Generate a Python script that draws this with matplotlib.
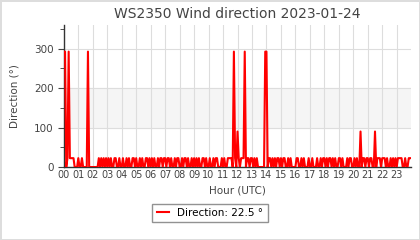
import matplotlib
matplotlib.use("Agg")
import matplotlib.pyplot as plt
from matplotlib.ticker import MultipleLocator

# Wind direction (degrees), one row per hour, 5-minute samples
dir_h00 = [292.5, 292.5, 0, 22.5, 292.5, 22.5, 22.5, 22.5, 22.5, 0, 0, 0]
dir_h01 = [22.5, 0, 0, 22.5, 0, 0, 0, 0, 292.5, 0, 0, 0]
dir_h02 = [0, 0, 0, 0, 0, 22.5, 0, 22.5, 0, 22.5, 0, 22.5]
dir_h03 = [0, 22.5, 0, 22.5, 0, 0, 22.5, 22.5, 0, 0, 22.5, 0]
dir_h04 = [0, 22.5, 0, 0, 22.5, 0, 22.5, 0, 0, 22.5, 22.5, 0]
dir_h05 = [22.5, 0, 0, 22.5, 0, 22.5, 0, 0, 22.5, 22.5, 0, 22.5]
dir_h06 = [0, 22.5, 0, 22.5, 0, 0, 22.5, 0, 22.5, 22.5, 0, 22.5]
dir_h07 = [22.5, 0, 22.5, 22.5, 0, 22.5, 0, 0, 22.5, 0, 22.5, 22.5]
dir_h08 = [0, 0, 22.5, 0, 22.5, 22.5, 0, 22.5, 0, 0, 22.5, 0]
dir_h09 = [22.5, 0, 22.5, 0, 22.5, 0, 0, 22.5, 22.5, 0, 22.5, 0]
dir_h10 = [0, 22.5, 0, 0, 22.5, 0, 22.5, 22.5, 0, 0, 0, 22.5]
dir_h11 = [0, 22.5, 0, 0, 22.5, 22.5, 22.5, 22.5, 0, 292.5, 22.5, 0]
dir_h12 = [90, 22.5, 0, 22.5, 22.5, 22.5, 292.5, 0, 22.5, 22.5, 0, 22.5]
dir_h13 = [22.5, 0, 22.5, 0, 22.5, 0, 0, 0, 0, 0, 0, 292.5]
dir_h14 = [292.5, 0, 22.5, 22.5, 0, 22.5, 0, 22.5, 0, 22.5, 22.5, 0]
dir_h15 = [22.5, 0, 22.5, 22.5, 0, 0, 22.5, 0, 22.5, 0, 0, 0]
dir_h16 = [0, 22.5, 22.5, 0, 0, 22.5, 0, 22.5, 0, 0, 0, 22.5]
dir_h17 = [0, 0, 22.5, 0, 0, 0, 22.5, 0, 0, 22.5, 0, 22.5]
dir_h18 = [22.5, 0, 22.5, 0, 22.5, 22.5, 0, 22.5, 0, 22.5, 0, 0]
dir_h19 = [22.5, 22.5, 0, 22.5, 0, 0, 0, 22.5, 0, 22.5, 22.5, 0]
dir_h20 = [0, 22.5, 0, 22.5, 0, 0, 90, 0, 22.5, 22.5, 0, 22.5]
dir_h21 = [22.5, 0, 22.5, 22.5, 0, 0, 90, 0, 22.5, 22.5, 22.5, 0]
dir_h22 = [22.5, 22.5, 22.5, 0, 22.5, 0, 0, 22.5, 0, 22.5, 0, 22.5]
dir_h23 = [0, 22.5, 22.5, 22.5, 22.5, 0, 0, 22.5, 0, 0, 22.5, 22.5]

hours = [dir_h00, dir_h01, dir_h02, dir_h03, dir_h04, dir_h05, dir_h06, dir_h07,
         dir_h08, dir_h09, dir_h10, dir_h11, dir_h12, dir_h13, dir_h14, dir_h15,
         dir_h16, dir_h17, dir_h18, dir_h19, dir_h20, dir_h21, dir_h22, dir_h23]
hour_labels = ["%02d" % h for h in range(24)]
last_value = 22.5

t = []
d = []
for h, row in enumerate(hours):
    for i, v in enumerate(row):
        t.append(h + i * 5 / 60.0)
        d.append(v)

txt = "#444444"
fig = plt.figure(figsize=(4.2, 2.4), dpi=100)
fig.patch.set_edgecolor("#dddddd")
fig.patch.set_linewidth(2)
ax = fig.add_axes([0.152, 0.304, 0.827, 0.592])

ax.axhspan(100, 200, color="#f5f5f5", zorder=0)
line, = ax.plot(t, d, color="#ff0000", lw=1.5, zorder=3,
                label="Direction: %.1f °" % last_value)

ax.set_xlim(0, 24)
ax.set_ylim(0, 360)
ax.set_xticks(range(24))
ax.set_xticklabels(hour_labels)
ax.yaxis.set_major_locator(MultipleLocator(100))
ax.yaxis.set_minor_locator(MultipleLocator(50))
ax.grid(True, color="#dddddd", lw=0.8, zorder=1)
ax.set_axisbelow(True)

for s in ["top", "right"]:
    ax.spines[s].set_visible(False)
for s in ["left", "bottom"]:
    ax.spines[s].set_color("#333333")
    ax.spines[s].set_linewidth(1.0)

ax.tick_params(axis="x", length=0, pad=2, labelsize=7, colors=txt)
ax.tick_params(axis="y", which="major", length=4, labelsize=7.5, colors=txt)
ax.tick_params(axis="y", which="minor", length=3, color="#333333")

ax.set_title("WS2350 Wind direction 2023-01-24", fontsize=10, color=txt, pad=5)
ax.set_xlabel("Hour (UTC)", fontsize=7.5, color=txt, labelpad=4)
ax.set_ylabel("Direction (°)", fontsize=7.5, color=txt, labelpad=10)

leg = fig.legend(handles=[line], loc="center", bbox_to_anchor=(0.5, 0.112),
                 fontsize=7.5, fancybox=False, edgecolor="#777777",
                 handlelength=1.2, borderpad=0.4)
leg.get_frame().set_linewidth(1.0)

fig.savefig("out.png", dpi=100)
